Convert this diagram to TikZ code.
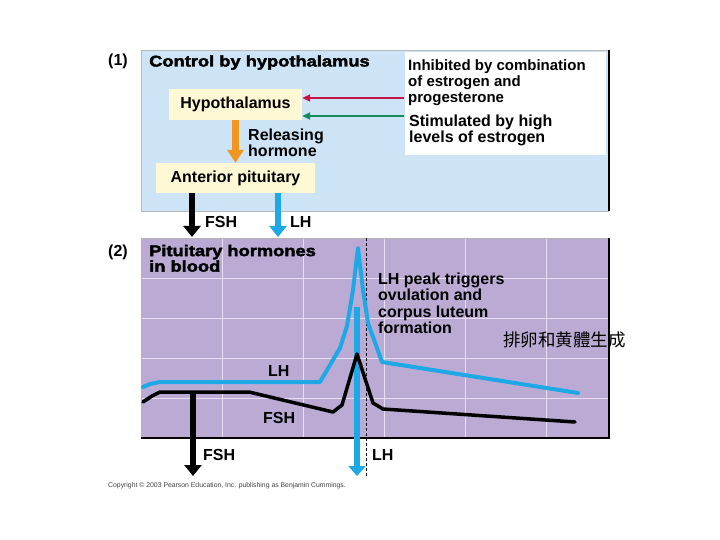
\documentclass[tikz,border=0pt]{standalone}
\usepackage{fontspec}
\setmainfont{Liberation Sans}
\newfontfamily\blackfont{Liberation Sans}[FakeStretch=1.18,BoldFeatures={FakeBold=2.5}]
\newfontfamily\cjkfont{Noto Sans CJK TC}
\usetikzlibrary{arrows.meta}
\newcommand\myfs[2]{\fontsize{#1}{#2}\selectfont}
\definecolor{panelblue}{RGB}{204,228,246}
\definecolor{purp}{RGB}{187,170,212}
\definecolor{gridc}{RGB}{232,224,242}
\definecolor{cream}{RGB}{255,248,212}
\definecolor{orangec}{RGB}{240,150,30}
\definecolor{lblue}{RGB}{30,168,230}
\definecolor{redc}{RGB}{200,20,70}
\definecolor{greenc}{RGB}{20,140,90}
\tikzset{
 lbl/.style={inner sep=0pt, font=\bfseries\myfs{16}{16}},
 boxlbl/.style={fill=cream, inner sep=0pt, font=\bfseries\myfs{16}{16}},
 hormarrow/.style={line width=6.5pt, -{Triangle[width=17pt,length=11pt]}},
 feedarrow/.style={line width=2pt, -{Triangle[width=7pt,length=8pt]}},
 curve/.style={line width=4pt, line join=round, line cap=round},
 gridline/.style={gridc, line width=1pt},
 heavy/.style={inner sep=0pt, font=\blackfont\bfseries\myfs{15.5}{15.5}},
}
\begin{document}
\begin{tikzpicture}[x=1pt,y=-1pt]
\useasboundingbox (0,0) rectangle (720,540);
% panel 1
\fill[panelblue] (141,50) rectangle (609,211);
\draw[gray!55, line width=0.6pt] (609,211) -- (141,211) -- (141,50) -- (609,50);
\draw[black, line width=1.5pt] (609,50) -- (609,211);
\fill[white] (405,52) rectangle (606,155);
\node[boxlbl, minimum width=133pt, minimum height=31pt] (hyp) at (235.5,104.5) {Hypothalamus};
\node[boxlbl, minimum width=159pt, minimum height=30pt] (ant) at (235.5,178) {Anterior pituitary};
\draw[orangec, line width=7pt, -{Triangle[width=16pt,length=13pt]}] (hyp.south) -- (ant.north);
\coordinate (inhtail) at (404,98);
\coordinate (stimtail) at (404,116);
\draw[feedarrow, redc] (inhtail) -- (inhtail -| hyp.east);
\draw[feedarrow, greenc] (stimtail) -- (stimtail -| hyp.east);
\node[lbl, anchor=base west] (n1) at (108,66) {(1)};
\node[heavy, anchor=base west] (ctl) at (149,66.5) {Control by hypothalamus};
\node[lbl, font=\bfseries\myfs{15}{16}, align=left, anchor=north west] (inh) at (408,59) {Inhibited by combination\\of estrogen and\\progesterone};
\node[lbl, align=left, anchor=north west] (stim) at (409,114.5) {Stimulated by high\\levels of estrogen};
\node[lbl, align=left, anchor=north west] (rel) at (248,128.5) {Releasing\\hormone};
% arrows to blood
\coordinate (fshtip) at (192,237);
\coordinate (lhtip) at (278,237);
\draw[hormarrow, black] (fshtip |- ant.south) -- (fshtip);
\draw[hormarrow, lblue] (lhtip |- ant.south) -- (lhtip);
\node[lbl, anchor=base west] (fshA) at (205,228) {FSH};
\node[lbl, anchor=base west] (lhA) at (290,228) {LH};
% panel 2
\fill[purp] (141,238) rectangle (609,438);
\foreach \x in {222,303,384,465,546} \draw[gridline] (\x,238) -- (\x,438);
\foreach \y in {278,318,358,398} \draw[gridline] (141,\y) -- (609,\y);
\draw[gray!60, line width=0.6pt] (141,438) -- (141,238) -- (609,238);
\draw[black, line width=1.3pt] (609,238) -- (609,438) -- (141,438);
\draw[dash pattern=on 3pt off 2pt, line width=0.8pt] (366,238) -- (366,478);
\draw[curve, lblue] (143,387) -- (150,384) -- (160,382) -- (320,382) -- (340,348) -- (347,326) -- (353,290) -- (358,248) -- (363,290) -- (368,323) -- (382,362) -- (578,393);
\coordinate (lhbar) at (357,307);
\coordinate (lhbot) at (357,476);
\draw[lblue, line width=6pt, -{Triangle[width=17pt,length=10pt]}] (lhbar) -- (lhbot);
\draw[curve, line width=3.5pt] (143,402) -- (152,396) -- (160,392) -- (249,392) -- (333,412) -- (342,405) -- (357,354) -- (373,403) -- (383,409) -- (575,422);
\coordinate (fshT) at (193,392);
\coordinate (fshbot) at (193,476);
\draw[hormarrow, black] (fshT) -- (fshbot);
\node[lbl, anchor=base west] (n2) at (108,256) {(2)};
\node[heavy, align=left, anchor=north west] (pit) at (149,244.7) {Pituitary hormones\\in blood};
\node[lbl, font=\bfseries\myfs{16}{16.5}, align=left, anchor=north west] (peak) at (378,272.5) {LH peak triggers\\ovulation and\\corpus luteum\\formation};
\node[inner sep=0pt, anchor=west, font=\cjkfont\myfs{17.5}{17.5}] (zh) at (503,340) {排卵和黄體生成};
\node[lbl, anchor=base west] (lhG) at (268,376) {LH};
\node[lbl, anchor=base west] (fshG) at (263,423) {FSH};
\node[lbl, anchor=base west] (fshB) at (203,460) {FSH};
\node[lbl, anchor=base west] (lhB) at (372,460) {LH};
\node[inner sep=0pt, anchor=base west, font=\myfs{6.85}{7.5}, text=black!75] (copy) at (108,487) {Copyright © 2003 Pearson Education, Inc. publishing as Benjamin Cummings.};
\end{tikzpicture}
\end{document}
